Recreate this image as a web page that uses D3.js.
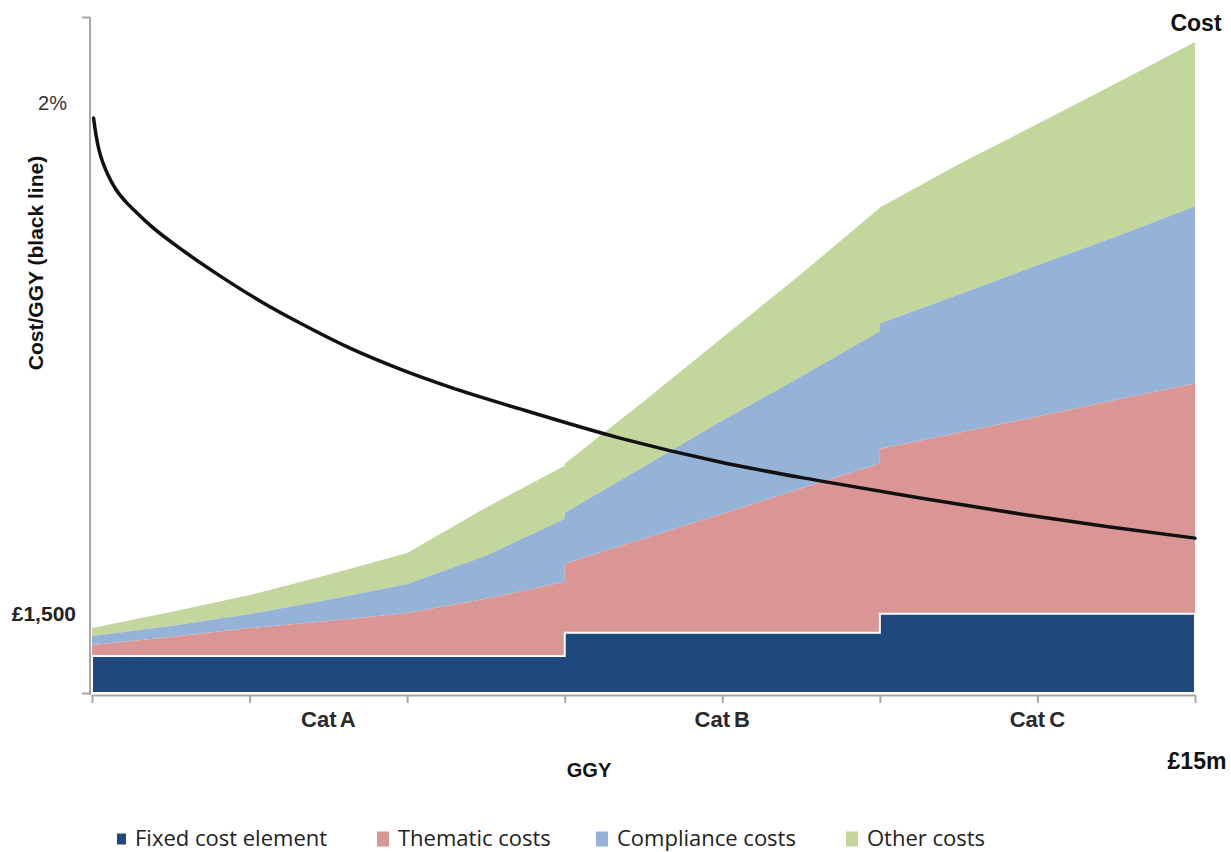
<!DOCTYPE html>
<html>
<head>
<meta charset="utf-8">
<title>Cost/GGY</title>
<script src="https://cdn.jsdelivr.net/npm/d3@7"></script>
<style>
  html, body { margin: 0; padding: 0; background: #fff; }
  svg { display: block; }
  text { font-family: "Liberation Sans", Arial, sans-serif; }
</style>
</head>
<body>
<svg id="chart" width="1231" height="852"></svg>
<script>
// Position along the GGY axis (one unit per tick); duplicated positions mark the category steps
const ggyPos = [0, 0.5, 1, 1.5, 2, 2.5, 3,   3, 3.5, 4, 4.5, 5,   5, 5.5, 6, 6.5, 7];

// Cost components (£)
const fixedCost  = [700, 700, 700, 700, 700, 700, 700,   1140, 1140, 1140, 1140, 1140,   1500, 1500, 1500, 1500, 1500];
const thematic   = [210, 360, 530, 665, 815, 1085, 1405,  1305, 1780, 2255, 2730, 3205,   3125, 3430, 3735, 4055, 4360];
const compliance = [171, 209, 265, 399, 550, 815, 1195,   967, 1366, 1764, 2124, 2503,    2370, 2617, 2863, 3091, 3356];
const other      = [152, 265, 360, 474, 588, 910, 1005,   930, 1232, 1570, 1940, 2340,    2200, 2465, 2674, 2901, 3110];

// Cost / GGY ratio (%), black line
const ratioPos = [0.01, 0.0254, 0.0444, 0.0698, 0.1015, 0.146, 0.2094, 0.2856, 0.368, 0.59, 0.812, 1.066, 1.32, 1.637, 1.955, 2.272, 2.716, 3.351, 3.985, 4.62, 5.255, 5.889, 6.461, 7];
const ratio    = [1.949, 1.892, 1.841, 1.797, 1.756, 1.712, 1.668, 1.627, 1.586, 1.495, 1.414, 1.329, 1.254, 1.169, 1.098, 1.037, 0.963, 0.864, 0.783, 0.719, 0.661, 0.607, 0.563, 0.525];

// Categories and their extent along the GGY axis
const categories = ["Cat A", "Cat B", "Cat C"];
const catStart   = [0, 3, 5];
const catEnd     = [3, 5, 7];

const seriesKeys   = ["fixed", "thematic", "compliance", "other"];
const seriesLabels = ["Fixed cost element", "Thematic costs", "Compliance costs", "Other costs"];
const seriesColors = ["#1f497d", "#d99694", "#95b3d7", "#c3d69b"];

const costTicks  = [1500];
const ratioTicks = [2];

const svg = d3.select("#chart");

const x = d3.scaleLinear().domain([0, 7]).range([92, 1195]);
const y = d3.scaleLinear().domain([0, 12800]).range([693, 17]);
const yRatio = d3.scaleLinear().domain([0, 2]).range([693, 103]);
const color = d3.scaleOrdinal().domain(seriesKeys).range(seriesColors);

const rows = ggyPos.map((p, i) => ({
  pos: p,
  fixed: fixedCost[i],
  thematic: thematic[i],
  compliance: compliance[i],
  other: other[i]
}));

const stacked = d3.stack().keys(seriesKeys)(rows);

const area = d3.area()
  .x(d => x(d.data.pos))
  .y0(d => y(d[0]))
  .y1(d => y(d[1]));

// Draw top layers first so the fixed block's white outline stays visible
svg.append("g")
  .selectAll("path")
  .data(stacked.slice().reverse())
  .join("path")
  .attr("d", area)
  .attr("fill", d => color(d.key))
  .attr("stroke", d => d.key === "fixed" ? "#ffffff" : "none")
  .attr("stroke-width", d => d.key === "fixed" ? 2 : 0)
  .attr("stroke-linejoin", "miter");

// Axes
const axisColor = "#a6a6a6";

const xAxis = svg.append("g")
  .attr("transform", `translate(0,${y(0) + 2})`)
  .call(d3.axisBottom(x).tickValues(d3.range(0, 8)).tickSize(8).tickSizeOuter(0).tickFormat(""));
xAxis.select(".domain").attr("stroke", axisColor).attr("stroke-width", 2);
xAxis.selectAll(".tick line").attr("stroke", axisColor).attr("stroke-width", 2);

const yAxis = svg.append("g")
  .attr("transform", `translate(${x(0) - 2},0)`)
  .call(d3.axisLeft(y).tickValues([0, 12800]).tickSize(8).tickSizeOuter(0).tickFormat(""));
yAxis.select(".domain").attr("stroke", axisColor).attr("stroke-width", 2)
  .attr("d", `M0,${y(12800)}V${y(0) + 2}`);
yAxis.selectAll(".tick line").attr("stroke", axisColor).attr("stroke-width", 2);

// Value labels on the left: cost (£) and ratio (%)
const costLabels = svg.append("g")
  .attr("transform", `translate(${x(0) - 2},0)`)
  .call(d3.axisLeft(y).tickValues(costTicks).tickSize(0).tickPadding(14)
    .tickFormat(d => "£" + d3.format(",")(d)));
costLabels.select(".domain").remove();
costLabels.selectAll("text")
  .style("font-family", "'Liberation Sans', Arial, sans-serif")
  .style("font-size", "21px").style("font-weight", "bold").attr("fill", "#222");

const ratioLabels = svg.append("g")
  .attr("transform", `translate(${x(0) - 2},0)`)
  .call(d3.axisLeft(yRatio).tickValues(ratioTicks).tickSize(0).tickPadding(23)
    .tickFormat(d => d + "%"));
ratioLabels.select(".domain").remove();
ratioLabels.selectAll("text")
  .style("font-family", "'Liberation Sans', Arial, sans-serif")
  .style("font-size", "20px").attr("fill", "#333");

// Cost / GGY line
const ratioRows = ratioPos.map((p, i) => ({ pos: p, value: ratio[i] }));
svg.append("path")
  .datum(ratioRows)
  .attr("d", d3.line().x(d => x(d.pos)).y(d => yRatio(d.value)).curve(d3.curveMonotoneX))
  .attr("fill", "none")
  .attr("stroke", "#111")
  .attr("stroke-width", 3.5)
  .attr("stroke-linecap", "round");

// Category labels centred in each category span
svg.append("g")
  .selectAll("text")
  .data(categories)
  .join("text")
  .attr("x", (d, i) => x((catStart[i] + catEnd[i]) / 2))
  .attr("y", 721)
  .attr("text-anchor", "middle")
  .attr("dominant-baseline", "middle")
  .style("font-size", "22px")
  .style("font-weight", "bold")
  .style("word-spacing", "-2px")
  .attr("fill", "#2a2a2a")
  .text(d => d);

// Axis titles
svg.append("text")
  .attr("x", 589).attr("y", 772)
  .attr("text-anchor", "middle").attr("dominant-baseline", "middle")
  .style("font-size", "20px").style("font-weight", "bold").attr("fill", "#111")
  .text("GGY");

svg.append("text")
  .attr("x", 1197).attr("y", 763)
  .attr("text-anchor", "middle").attr("dominant-baseline", "middle")
  .style("font-size", "23px").style("font-weight", "bold").attr("fill", "#111")
  .text("£15m");

svg.append("text")
  .attr("x", 1196).attr("y", 25)
  .attr("text-anchor", "middle").attr("dominant-baseline", "middle")
  .style("font-size", "23px").style("font-weight", "bold").attr("fill", "#111")
  .text("Cost");

svg.append("text")
  .attr("transform", "translate(37,263) rotate(-90)")
  .attr("text-anchor", "middle").attr("dominant-baseline", "middle")
  .style("font-size", "21px").style("font-weight", "bold").attr("fill", "#111")
  .text("Cost/GGY (black line)");

// Legend
const legendX = [117, 377, 596, 846];
const legend = svg.append("g").attr("transform", "translate(0,840)");
seriesKeys.forEach((k, i) => {
  const small = i === 0;
  const mw = small ? 9 : 12, mh = small ? 11 : 15;
  legend.append("rect")
    .attr("x", legendX[i]).attr("y", -mh / 2 - 1)
    .attr("width", mw).attr("height", mh)
    .attr("fill", color(k));
  legend.append("text")
    .attr("x", legendX[i] + (small ? 18 : 21)).attr("y", 0)
    .attr("dominant-baseline", "middle")
    .style("font-family", "'Open Sans', sans-serif")
    .style("font-size", "22px")
    .attr("fill", "#222")
    .text(seriesLabels[i]);
});
</script>
</body>
</html>
